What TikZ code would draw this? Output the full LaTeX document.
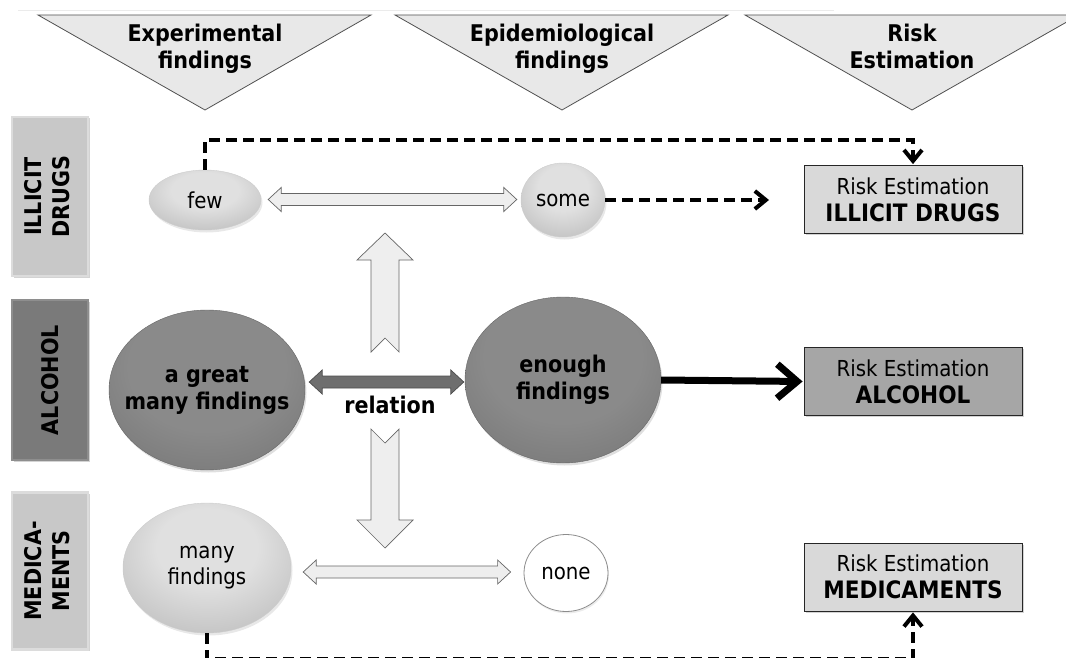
\documentclass[tikz,border=0pt]{standalone}
\usepackage{fontspec}
\setmainfont{DejaVu Sans Condensed}[BoldFont={DejaVu Sans Condensed Bold}]
\usetikzlibrary{arrows.meta,shadows,shapes.geometric,calc}

\definecolor{triFill}{HTML}{E8E8E8}
\definecolor{triLine}{HTML}{505050}
\definecolor{rowLight}{HTML}{C8C8C8}
\definecolor{rowLightEdge}{HTML}{DCDCDC}
\definecolor{rowDark}{HTML}{7A7A7A}
\definecolor{rowDarkEdge}{HTML}{8E8E8E}
\definecolor{riskLight}{HTML}{D9D9D9}
\definecolor{riskDark}{HTML}{A6A6A6}
\definecolor{arrowLight}{HTML}{EEEEEE}
\definecolor{arrowDark}{HTML}{6E6E6E}
\definecolor{lightHi}{HTML}{E0E0E0}
\definecolor{lightLo}{HTML}{A6A6A6}
\definecolor{darkHi}{HTML}{8A8A8A}
\definecolor{darkLo}{HTML}{666666}

% soft ball shadings, highlight slightly above the centre
\pgfdeclareradialshading{balllight}{\pgfpoint{0bp}{10bp}}{color(0bp)=(lightHi); color(15bp)=(lightHi); color(50bp)=(lightLo); color(70bp)=(lightLo)}
\pgfdeclareradialshading{balldark}{\pgfpoint{0bp}{10bp}}{color(0bp)=(darkHi); color(20bp)=(darkHi); color(52bp)=(darkLo); color(70bp)=(darkLo)}

% block arrow with heads at both ends, between two points on one level
\newcommand{\twoway}[3]{%
  \draw[#1] let \p1=(#2), \p2=(#3) in
    (\x1,\y1) -- ++(13pt,12pt) -- ++(0,-6pt) -- ({\x2-13pt},{\y1+6pt}) -- ++(0,6pt)
    -- (\x2,\y1) -- ++(-13pt,-12pt) -- ++(0,6pt) -- ({\x1+13pt},{\y1-6pt}) -- ++(0,-6pt) -- cycle;}

\begin{document}
\begin{tikzpicture}[x=1pt,y=-1pt,
  hdrtri/.style={fill=triFill, draw=triLine, line width=0.8pt},
  hdrtxt/.style={font=\bfseries\fontsize{23}{27}\selectfont, align=center, inner sep=0pt, anchor=north},
  rowbox/.style={minimum width=76pt, minimum height=#1, inner sep=0pt, line width=2.2pt,
    font=\bfseries\fontsize{23}{28}\selectfont,
    drop shadow={shadow xshift=1.5pt, shadow yshift=-1.5pt, opacity=0.35}},
  rowlight/.style={rowbox=#1, fill=rowLight, draw=rowLightEdge},
  rowdark/.style={rowbox=#1, fill=rowDark, draw=rowDarkEdge},
  riskbox/.style={draw=black!85, line width=0.8pt, minimum width=218pt, minimum height=68pt,
    inner sep=0pt, align=center, font=\fontsize{22}{27}\selectfont,
    drop shadow={shadow xshift=1.5pt, shadow yshift=-1.5pt, opacity=0.35}},
  ball/.style={ellipse, inner xsep=-30pt, inner ysep=-12pt, align=center, minimum width=#1},
  lightball/.style={ball=#1, shading=balllight, draw=white!80!black, line width=0.4pt,
    font=\fontsize{22}{26}\selectfont,
    drop shadow={shadow xshift=1.5pt, shadow yshift=-2.5pt, opacity=0.18}},
  darkball/.style={ball=#1, shading=balldark, draw=darkLo, line width=0.4pt,
    font=\bfseries\fontsize{23}{27}\selectfont,
    drop shadow={shadow xshift=1.5pt, shadow yshift=-2.5pt, opacity=0.25}},
  emptyball/.style={ball=#1, fill=white, draw=black!45, line width=0.8pt,
    font=\fontsize{22}{26}\selectfont,
    drop shadow={shadow xshift=1pt, shadow yshift=-2pt, opacity=0.15}},
  lightarrow/.style={fill=arrowLight, draw=black!60, line width=0.7pt},
  darkarrow/.style={fill=arrowDark, draw=black!70, line width=0.7pt},
  blockarrow/.style={fill=arrowLight, draw=black!60, line width=0.7pt},
  dashconn/.style={line width=4pt, dash pattern=on 11pt off 6pt,
    -{Straight Barb[length=11pt,width=18pt]}, shorten >=1pt},
  solidconn/.style={line width=7pt, -{Straight Barb[length=20pt,width=34pt]}, shorten >=1pt},
]
\useasboundingbox (0,0) rectangle (1066,658);

% thin rule above the headings
\draw[black!8, line width=0.8pt] (18,10) -- (834,10);

% column headings
\path[hdrtri] (38,15) -- (371,15) -- (205,110) -- cycle;
\path[hdrtri] (395,15) -- (728,15) -- (562,110) -- cycle;
\path[hdrtri] (745,15) -- (1079,15) -- (912,110) -- cycle;
\node[hdrtxt] (hExp) at (205,23.5) {Experimental\\findings};
\node[hdrtxt] (hEpi) at (562,23.5) {Epidemiological\\findings};
\node[hdrtxt] (hRisk) at (912,23.5) {Risk\\Estimation};

% row labels
\node[rowlight=159pt] (rowI) at (50,196.5)
  {\rotatebox{90}{\begin{tabular}{@{}c@{}}ILLICIT\\DRUGS\end{tabular}}};
\node[rowdark=160pt] (rowA) at (50,380)
  {\rotatebox{90}{ALCOHOL}};
\node[rowlight=157pt] (rowM) at (50,571)
  {\rotatebox{90}{\begin{tabular}{@{}c@{}}MEDICA-\\MENTS\end{tabular}}};

% findings
\node[lightball=112pt, minimum height=60pt] (few) at (205,200) {few};
\node[lightball=84pt, minimum height=74pt] (some) at (563,200) {some};
\node[darkball=196pt, minimum height=160pt] (great) at (207,390) {a great\\many findings};
\node[darkball=196pt, minimum height=166pt] (enough) at (563,380) {enough\\findings};
\node[lightball=168pt, minimum height=130pt] (many) at (207,568) {many\\findings};
\node[emptyball=84pt, minimum height=77pt] (none) at (566,573) {none};

% risk estimations
\node[riskbox, fill=riskLight] (riskI) at (913,199.5) {Risk Estimation\\{\bfseries\fontsize{24}{27}\selectfont ILLICIT DRUGS}};
\node[riskbox, fill=riskDark] (riskA) at (913,381.5) {Risk Estimation\\{\bfseries\fontsize{24}{27}\selectfont ALCOHOL}};
\node[riskbox, fill=riskLight] (riskM) at (913,577) {Risk Estimation\\{\bfseries\fontsize{24}{27}\selectfont MEDICAMENTS}};

% relations between the findings
\twoway{lightarrow}{$(few.east)+(7,-0.5)$}{$(some.west)+(-4,0)$}
\twoway{darkarrow}{$(great.east)+(4,-8)$}{$(enough.west)+(-1,0)$}
\twoway{lightarrow}{$(many.east)+(12,4)$}{$(none.west)+(-13,0)$}
\node[font=\bfseries\fontsize{23}{26}\selectfont, inner sep=0pt] (rel) at (390,405) {relation};

% transfer from the alcohol findings to the other rows
\path[blockarrow] (385,233) -- (413,260) -- (399,260) -- (399,352) -- (385,338)
  -- (371,352) -- (371,260) -- (357,260) -- cycle;
\path[blockarrow] (371,429) -- (385,443) -- (399,429) -- (399,520) -- (413,520)
  -- (385,548) -- (357,520) -- (371,520) -- cycle;

% paths to the risk estimations; the lower run lies on the bottom edge
\coordinate (topRun) at (0,140);
\coordinate (botRun) at (0,659);
\coordinate (someEnd) at (770,200);
\draw[dashconn] (few.north) -- (few.north |- topRun) -| (riskI.north);
\draw[dashconn] (some.east) -- (someEnd);
\draw[solidconn] (enough.east) -- (riskA.west);
\draw[dashconn] (many.south) -- (many.south |- botRun) -| (riskM.south);
\end{tikzpicture}
\end{document}
